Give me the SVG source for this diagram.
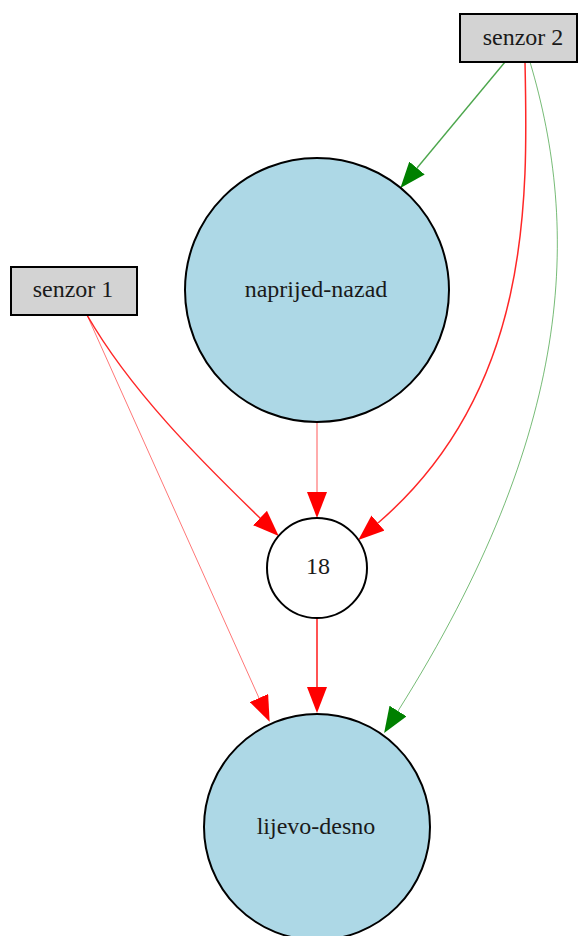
<svg xmlns="http://www.w3.org/2000/svg" width="578" height="936" viewBox="0 0 578 936">
<style>
.box{fill:#d3d3d3;stroke:#000;stroke-width:2}
.big{fill:#add8e6;stroke:#000;stroke-width:2}
.small{fill:#fff;stroke:#000;stroke-width:2}
text{font-family:"Liberation Serif","Times New Roman",serif;font-size:24px;fill:#1a1a1a;text-anchor:middle}
.e{fill:none}
.red{stroke:#ff0000}
.green{stroke:#008000}
</style>
<defs>
<marker id="ar" viewBox="0 0 26 20" refX="0" refY="10" markerWidth="26" markerHeight="20" markerUnits="userSpaceOnUse" orient="auto"><path d="M0,0 L26,10 L0,20 z" fill="#ff0000"/></marker>
<marker id="ag" viewBox="0 0 26 20" refX="0" refY="10" markerWidth="26" markerHeight="20" markerUnits="userSpaceOnUse" orient="auto"><path d="M0,0 L26,10 L0,20 z" fill="#008000"/></marker>
</defs>
<g id="connectors">
<path class="e green" stroke-width="1.4" stroke-opacity="0.7" d="M505,62 L417,168" marker-end="url(#ag)"/>
<path class="e red" stroke-width="1.5" stroke-opacity="0.85" d="M525,62 C528,200 532,390 378,523" marker-end="url(#ar)"/>
<path class="e green" stroke-width="0.9" stroke-opacity="0.6" d="M530,62 C580,230 575,430 398,711" marker-end="url(#ag)"/>
<path class="e red" stroke-width="1.5" stroke-opacity="0.85" d="M87,315 C130,390 200,460 260,518" marker-end="url(#ar)"/>
<path class="e red" stroke-width="0.9" stroke-opacity="0.6" d="M87,315 L259,698" marker-end="url(#ar)"/>
<path class="e red" stroke-width="1.3" stroke-opacity="0.5" d="M317,423 L317,492" marker-end="url(#ar)"/>
<path class="e red" stroke-width="1.6" stroke-opacity="0.85" d="M317,618 L317,687" marker-end="url(#ar)"/>
</g>
<g id="senzor2"><rect class="box" x="460" y="14" width="117" height="48"/><text x="523" y="45">senzor 2</text></g>
<g id="senzor1"><rect class="box" x="11" y="267" width="126" height="48"/><text x="73" y="297">senzor 1</text></g>
<g id="naprijed-nazad"><circle class="big" cx="317" cy="290" r="132"/><text x="316" y="297">naprijed-nazad</text></g>
<g id="n18"><circle class="small" cx="317" cy="568" r="50"/><text x="318" y="574">18</text></g>
<g id="lijevo-desno"><circle class="big" cx="317" cy="827" r="113"/><text x="316" y="834">lijevo-desno</text></g>
</svg>
